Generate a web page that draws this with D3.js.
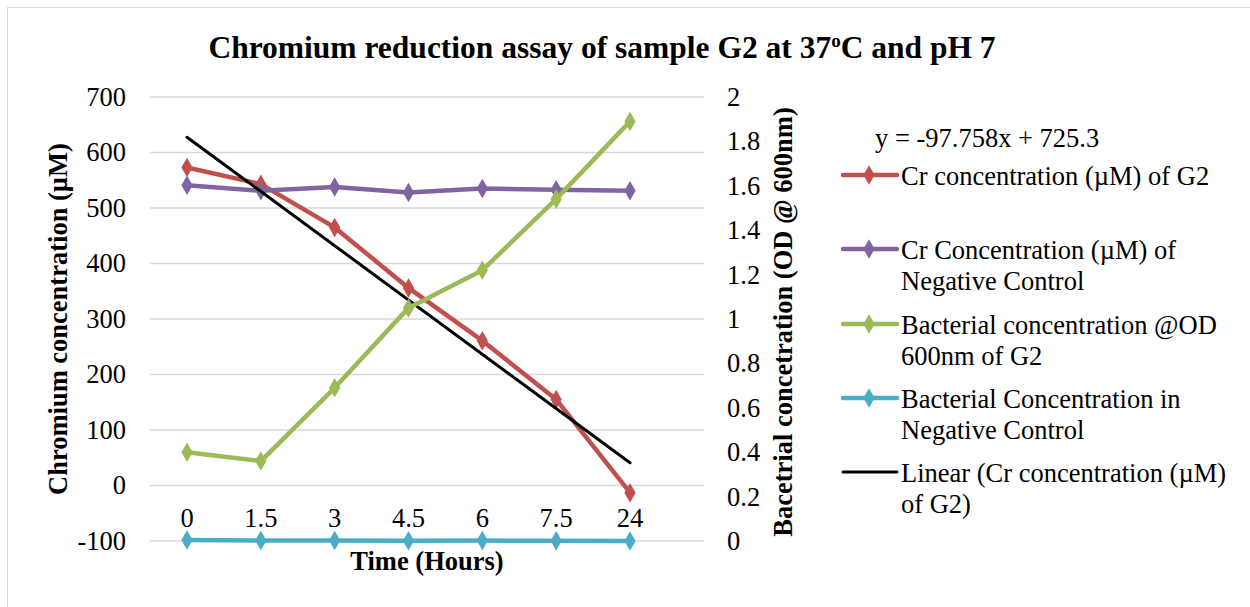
<!DOCTYPE html>
<html>
<head>
<meta charset="utf-8">
<script src="https://cdn.jsdelivr.net/npm/d3@7/dist/d3.min.js"></script>
<style>
  body { margin: 0; background: #fff; }
  text { font-family: "Liberation Serif", "Times New Roman", serif; fill: #000; }
</style>
</head>
<body>
<svg width="1250" height="607"></svg>
<script>
// data
const hours = ['0', '1.5', '3', '4.5', '6', '7.5', '24'];
const crG2 = [573, 543, 465, 356, 261, 155, -13];
const crNegative = [541, 531, 538, 528, 535, 533, 531];
const odG2 = [0.40, 0.36, 0.69, 1.05, 1.22, 1.54, 1.89];
const odNegative = [0.005, 0.002, 0.002, 0.001, 0.002, 0.001, 0.0];
const trendSlope = -97.758;
const trendIntercept = 725.3;
const leftTicks = [-100, 0, 100, 200, 300, 400, 500, 600, 700];
const rightTicks = [0, 0.2, 0.4, 0.6, 0.8, 1, 1.2, 1.4, 1.6, 1.8, 2];

const svg = d3.select('svg');
const plotLeft = 150;
const plotRight = 704;
const plotTop = 97;
const plotBottom = 541;
const fontSize = '26.5px';

// chart border (only top and left edges fall inside the picture)
svg.append('rect')
    .attr('x', 7.5)
    .attr('y', 7.5)
    .attr('width', 1260)
    .attr('height', 620)
    .style('fill', 'none')
    .style('stroke', '#d9d9d9');

const xScale = d3.scalePoint()
    .domain(hours)
    .range([187, 630]);
const yLeft = d3.scaleLinear()
    .domain([-100, 700])
    .range([plotBottom, plotTop]);
const yRight = d3.scaleLinear()
    .domain([0, 2])
    .range([plotBottom, plotTop]);

// gridlines
svg.append('g')
    .selectAll('line')
    .data(leftTicks)
    .enter()
    .append('line')
    .attr('x1', plotLeft)
    .attr('x2', plotRight)
    .attr('y1', d => yLeft(d))
    .attr('y2', d => yLeft(d))
    .style('stroke', '#d9d9d9')
    .style('stroke-width', '1.5px');

const leftAxis = d3.axisLeft(yLeft)
    .tickValues(leftTicks)
    .tickSize(0)
    .tickPadding(24)
    .tickFormat(d => String(d));
svg.append('g')
    .attr('transform', `translate(${plotLeft}, 0)`)
    .call(leftAxis)
    .call(g => g.select('.domain').remove())
    .selectAll('text')
    .style('font-family', '"Liberation Serif", serif')
    .style('font-size', fontSize);

const rightAxis = d3.axisRight(yRight)
    .tickValues(rightTicks)
    .tickSize(0)
    .tickPadding(23)
    .tickFormat(d3.format('~g'));
svg.append('g')
    .attr('transform', `translate(${plotRight}, 0)`)
    .call(rightAxis)
    .call(g => g.select('.domain').remove())
    .selectAll('text')
    .style('font-family', '"Liberation Serif", serif')
    .style('font-size', fontSize);

// category labels sit above the -100 line
svg.append('g')
    .selectAll('text')
    .data(hours)
    .enter()
    .append('text')
    .attr('x', d => xScale(d))
    .attr('y', 527)
    .attr('text-anchor', 'middle')
    .style('font-size', fontSize)
    .text(d => d);

// titles
const title = svg.append('text')
    .attr('x', 602)
    .attr('y', 58)
    .attr('text-anchor', 'middle')
    .style('font-size', '31.5px')
    .style('font-weight', 'bold');
title.append('tspan').text('Chromium reduction assay of sample G2 at 37');
title.append('tspan').attr('dy', -11).style('font-size', '19px').text('o');
title.append('tspan').attr('dy', 11).text('C and pH 7');

svg.append('text')
    .attr('transform', 'translate(67, 319) rotate(-90)')
    .attr('text-anchor', 'middle')
    .style('font-size', fontSize)
    .style('font-weight', 'bold')
    .text('Chromium concentration (µM)');
svg.append('text')
    .attr('transform', 'translate(792, 322) rotate(-90)')
    .attr('text-anchor', 'middle')
    .style('font-size', fontSize)
    .style('font-weight', 'bold')
    .text('Bacetrial concetration (OD @ 600nm)');
svg.append('text')
    .attr('x', 427)
    .attr('y', 570)
    .attr('text-anchor', 'middle')
    .style('font-size', fontSize)
    .style('font-weight', 'bold')
    .text('Time (Hours)');

const diamond = d3.symbol().type(d3.symbolDiamond).size(110);

function drawSeries(values, yScale, color) {
  const line = d3.line()
      .x((d, i) => xScale(hours[i]))
      .y(d => yScale(d));
  svg.append('path')
      .datum(values)
      .attr('d', line)
      .style('fill', 'none')
      .style('stroke', color)
      .style('stroke-width', '4.5px')
      .style('stroke-linejoin', 'round');
  svg.append('g')
      .selectAll('path')
      .data(values)
      .enter()
      .append('path')
      .attr('d', diamond)
      .attr('transform', (d, i) => `translate(${xScale(hours[i])}, ${yScale(d)})`)
      .style('fill', color);
}

drawSeries(crG2, yLeft, '#c0504d');
drawSeries(crNegative, yLeft, '#8064a2');

// linear trend of Cr G2 (x = 1..7)
const trendX = [1, hours.length];
svg.append('line')
    .attr('x1', xScale(hours[0]))
    .attr('x2', xScale(hours[hours.length - 1]))
    .attr('y1', yLeft(trendSlope * trendX[0] + trendIntercept))
    .attr('y2', yLeft(trendSlope * trendX[1] + trendIntercept))
    .style('stroke', '#000')
    .style('stroke-width', '3px')
    .style('stroke-linecap', 'round');

drawSeries(odG2, yRight, '#9bbb59');
drawSeries(odNegative, yRight, '#4bacc6');

// legend
svg.append('text')
    .attr('x', 875)
    .attr('y', 147)
    .style('font-size', fontSize)
    .text(`y = ${trendSlope}x + ${trendIntercept}`);

const legendItems = [
  {color: '#c0504d', lines: ['Cr concentration (µM) of G2'], y: 175, marker: true},
  {color: '#8064a2', lines: ['Cr Concentration (µM) of', 'Negative Control'], y: 249, marker: true},
  {color: '#9bbb59', lines: ['Bacterial concentration @OD', '600nm of G2'], y: 324, marker: true},
  {color: '#4bacc6', lines: ['Bacterial Concentration in', 'Negative Control'], y: 398, marker: true},
  {color: '#000', lines: ['Linear (Cr concentration (µM)', 'of G2)'], y: 472, marker: false}
];
const legend = svg.append('g')
    .selectAll('g')
    .data(legendItems)
    .enter()
    .append('g')
    .attr('transform', d => `translate(0, ${d.y})`);
legend.append('line')
    .attr('x1', 843)
    .attr('x2', 897)
    .style('stroke', d => d.color)
    .style('stroke-width', d => d.marker ? '4.5px' : '3px')
    .style('stroke-linecap', 'round');
legend.filter(d => d.marker)
    .append('path')
    .attr('d', diamond)
    .attr('transform', 'translate(869, 0)')
    .style('fill', d => d.color);
legend.each(function(d) {
  const t = d3.select(this).append('text')
      .attr('x', 901)
      .attr('y', 10)
      .style('font-size', fontSize);
  d.lines.forEach((s, i) => {
    t.append('tspan')
        .attr('x', 901)
        .attr('dy', i === 0 ? 0 : 31)
        .text(s);
  });
});
</script>
</body>
</html>
